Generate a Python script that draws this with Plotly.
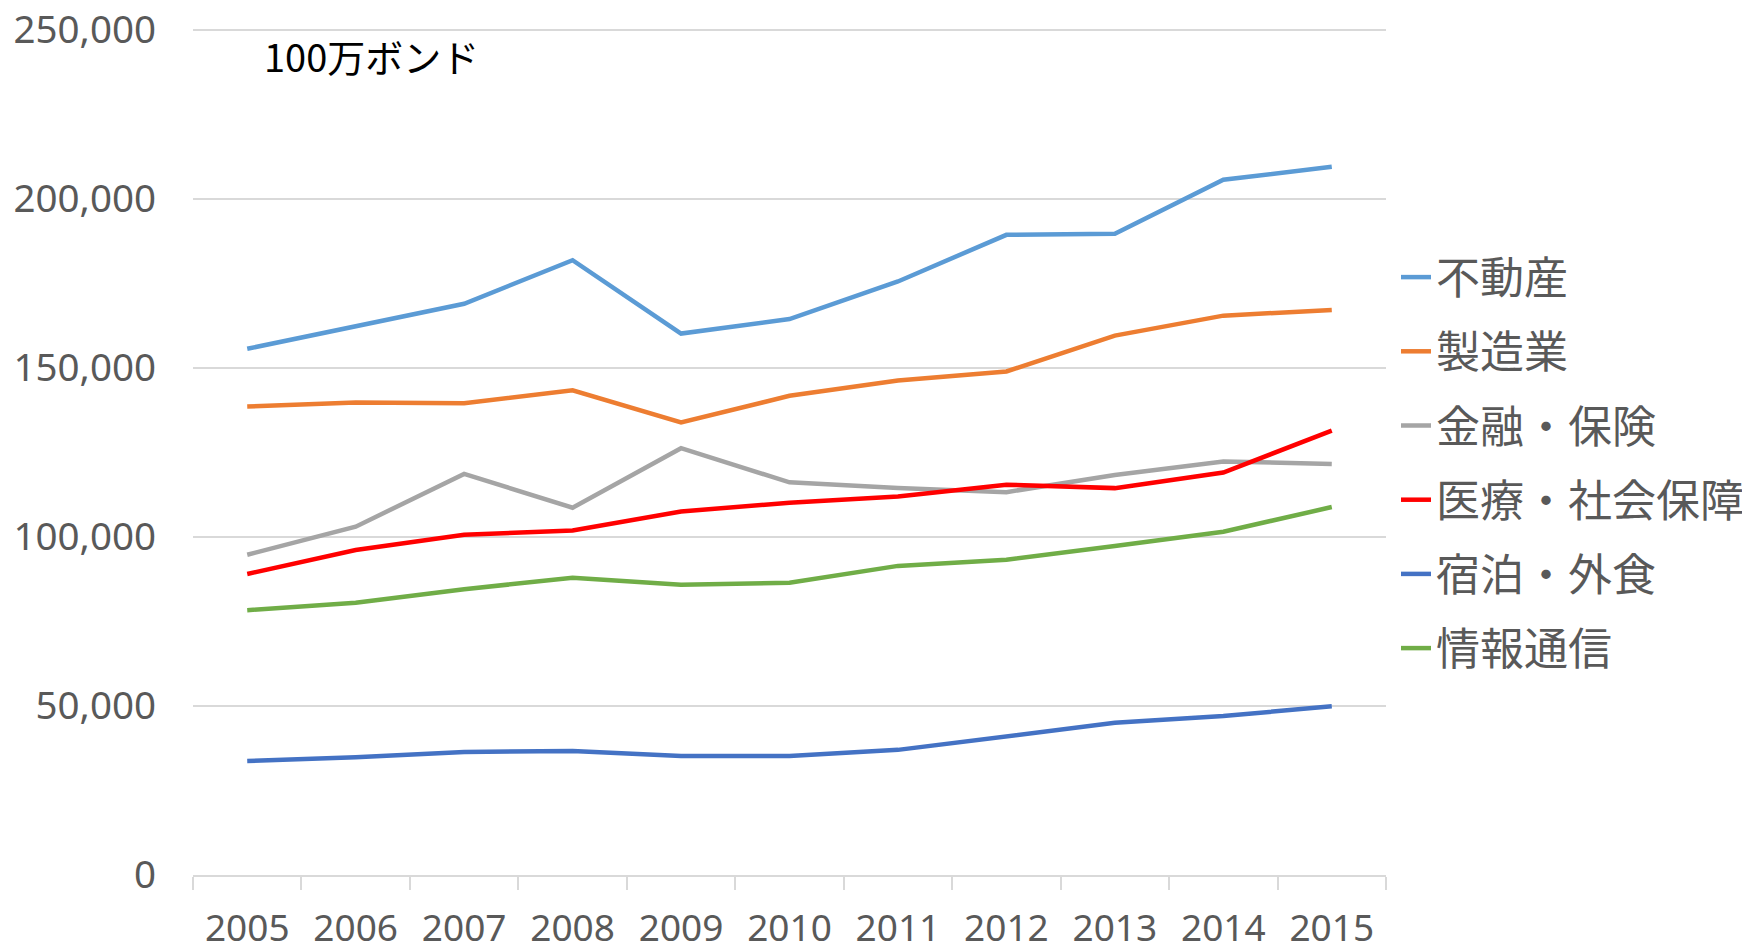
import plotly.graph_objects as go

years = ["2005", "2006", "2007", "2008", "2009", "2010", "2011", "2012", "2013", "2014", "2015"]

real_estate = [155600, 162200, 168900, 181800, 160100, 164400, 175500, 189300, 189600, 205600, 209400]
manufacturing = [138500, 139700, 139500, 143300, 133800, 141700, 146200, 148900, 159500, 165400, 167100]
finance_insurance = [94700, 103000, 118600, 108600, 126200, 116100, 114400, 113200, 118300, 122300, 121500]
health_social = [89000, 96100, 100600, 101900, 107500, 110100, 111900, 115400, 114400, 119000, 131400]
accommodation_food = [33700, 34800, 36400, 36700, 35200, 35200, 37000, 41100, 45000, 47000, 49900]
info_comm = [78300, 80500, 84500, 87900, 85800, 86400, 91400, 93200, 97300, 101500, 108800]

series = [
    ("不動産", real_estate, "#5B9BD5"),
    ("製造業", manufacturing, "#ED7D31"),
    ("金融・保険", finance_insurance, "#A5A5A5"),
    ("医療・社会保障", health_social, "#FF0000"),
    ("宿泊・外食", accommodation_food, "#4472C4"),
    ("情報通信", info_comm, "#70AD47"),
]

y_ticks = [0, 50000, 100000, 150000, 200000, 250000]
y_tick_labels = ["0", "50,000", "100,000", "150,000", "200,000", "250,000"]
y_max = 250750  # a hair above the top tick so its gridline is drawn

# page body has an 8px default margin, so the figure is drawn 8px smaller
OFF = 8
W, H = 1750 - OFF, 946 - OFF
PX_PER_UNIT = 845 / 250000
L, R, B = 193 - OFF, 364, 71
T = 30 - OFF - (y_max - 250000) * PX_PER_UNIT
PW, PH = W - L - R, H - T - B

fig = go.Figure()
for i, (name, vals, color) in enumerate(series):
    fig.add_trace(go.Scatter(
        x=years, y=vals, name=name, mode="lines",
        line=dict(color=color, width=4.5),
        legendgroup=f"g{i}",
    ))

fig.update_layout(
    width=W, height=H,
    paper_bgcolor="white", plot_bgcolor="white",
    margin=dict(l=L, r=R, t=T, b=B, autoexpand=False),
    font=dict(family="Noto Sans, Noto Sans CJK JP", color="#595959"),
    showlegend=True,
    legend=dict(
        x=1388 / W, xref="container", xanchor="left",
        y=1 - 234 / H, yref="container", yanchor="top",
        font=dict(family="Noto Sans CJK JP", size=44, color="#595959"),
        tracegroupgap=14,
        bgcolor="rgba(0,0,0,0)",
        itemwidth=30,
    ),
    xaxis=dict(
        type="category",
        range=[-0.5, len(years) - 0.5],
        tickson="boundaries",
        ticks="outside", ticklen=13, tickcolor="#D9D9D9", tickwidth=1.5,
        showline=True, linecolor="#D9D9D9", linewidth=1.5,
        showgrid=False, automargin=False,
        tickfont=dict(family="Noto Sans", size=37, color="#595959"),
        ticklabelstandoff=20,
    ),
    yaxis=dict(
        range=[0, y_max],
        tickvals=y_ticks, ticktext=y_tick_labels,
        showgrid=True, gridcolor="#D9D9D9", gridwidth=1.5,
        zeroline=False, showline=False, automargin=False,
        tickfont=dict(family="Noto Sans", size=38.5, color="#595959"),
        ticklabelstandoff=36,
        ticklabeloverflow="allow",
    ),
    annotations=[dict(
        text="100万ボンド", x=(262 - 193) / PW, y=(875 - 56) * 0 + (H - B - (55.5 - OFF)) / PH,
        xref="paper", yref="paper",
        xanchor="left", yanchor="middle", showarrow=False,
        font=dict(family="Noto Sans CJK JP", size=38, color="#000000"),
    )],
)

fig.write_html("out.html")
